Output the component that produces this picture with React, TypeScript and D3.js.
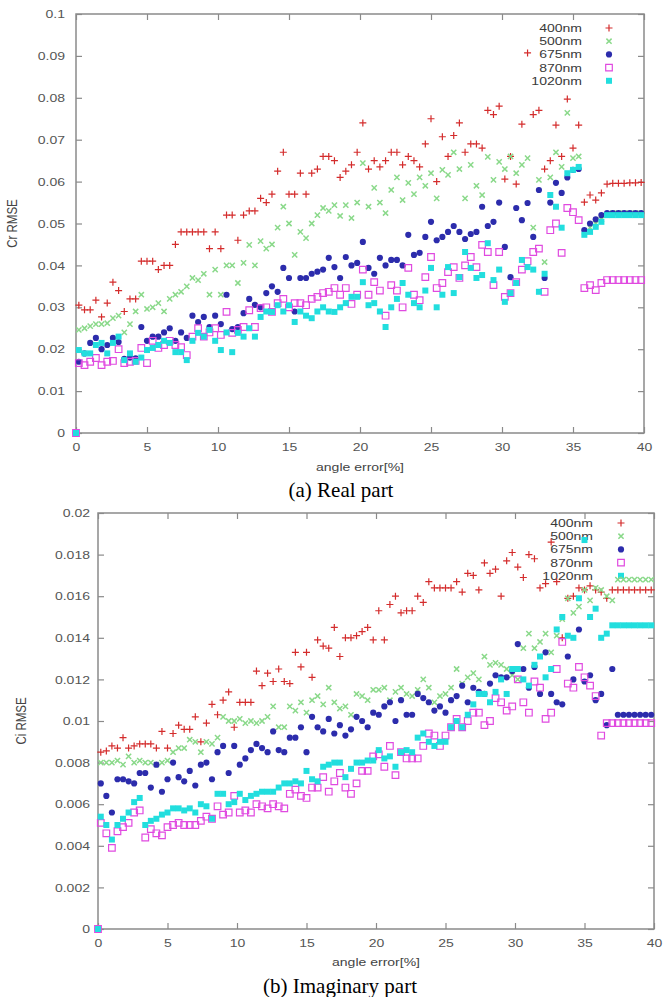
import { useEffect, useRef } from "react";
import * as d3 from "d3";

// angle error [%]: the origin, then every 0.4 from 0.2
const ANGLES = [
  0,
  0.2, 0.6, 1, 1.4, 1.8, 2.2, 2.6, 3, 3.4, 3.8,
  4.2, 4.6, 5, 5.4, 5.8, 6.2, 6.6, 7, 7.4, 7.8,
  8.2, 8.6, 9, 9.4, 9.8, 10.2, 10.6, 11, 11.4, 11.8,
  12.2, 12.6, 13, 13.4, 13.8, 14.2, 14.6, 15, 15.4, 15.8,
  16.2, 16.6, 17, 17.4, 17.8, 18.2, 18.6, 19, 19.4, 19.8,
  20.2, 20.6, 21, 21.4, 21.8, 22.2, 22.6, 23, 23.4, 23.8,
  24.2, 24.6, 25, 25.4, 25.8, 26.2, 26.6, 27, 27.4, 27.8,
  28.2, 28.6, 29, 29.4, 29.8, 30.2, 30.6, 31, 31.4, 31.8,
  32.2, 32.6, 33, 33.4, 33.8, 34.2, 34.6, 35, 35.4, 35.8,
  36.2, 36.6, 37, 37.4, 37.8, 38.2, 38.6, 39, 39.4, 39.8,
];

const WAVELENGTHS = ["400nm", "500nm", "675nm", "870nm", "1020nm"];
const COLORS = ["#d42c2c", "#8ad98a", "#2c2cac", "#e04ae0", "#22dede"];
const MARKERS = ["plus", "cross", "dot", "square", "box"];

const X_TICKS = [0, 5, 10, 15, 20, 25, 30, 35, 40];
const REAL_TICKS = [0, 0.01, 0.02, 0.03, 0.04, 0.05, 0.06, 0.07, 0.08, 0.09, 0.1];
const REAL_TICK_LABELS = ["0", "0.01", "0.02", "0.03", "0.04", "0.05", "0.06", "0.07", "0.08", "0.09", "0.1"];
const IMAG_TICKS = [0, 0.002, 0.004, 0.006, 0.008, 0.01, 0.012, 0.014, 0.016, 0.018, 0.02];
const IMAG_TICK_LABELS = ["0", "0.002", "0.004", "0.006", "0.008", "0.01", "0.012", "0.014", "0.016", "0.018", "0.02"];

// (a) real part, Cr RMSE
const REAL_400 = [
  0,
  0.0305, 0.0294, 0.0294, 0.0317, 0.0277, 0.031, 0.036, 0.034, 0.029, 0.032,
  0.032, 0.041, 0.041, 0.041, 0.039, 0.04, 0.04, 0.045, 0.048, 0.048,
  0.048, 0.048, 0.048, 0.044, 0.048, 0.044, 0.052, 0.052, 0.046, 0.052,
  0.053, 0.053, 0.056, 0.055, 0.057, 0.0625, 0.067, 0.057, 0.057, 0.062,
  0.057, 0.062, 0.063, 0.066, 0.066, 0.065, 0.061, 0.0625, 0.064, 0.067,
  0.074, 0.063, 0.065, 0.0635, 0.065, 0.067, 0.067, 0.064, 0.066, 0.065,
  0.0635, 0.069, 0.075, 0.06, 0.0707, 0.066, 0.071, 0.074, 0.067, 0.069,
  0.069, 0.068, 0.077, 0.076, 0.078, 0.0606, 0.066, 0.0594, 0.0737, 0.0907,
  0.076, 0.077, 0.063, 0.065, 0.0735, 0.066, 0.0797, 0.068, 0.0735, 0.0551,
  0.0568, 0.0556, 0.0573, 0.0594, 0.0596, 0.0596, 0.0596, 0.0597, 0.0597, 0.0598,
];
const REAL_500 = [
  0,
  0.0246, 0.025, 0.0255, 0.026, 0.026, 0.0262, 0.0274, 0.028, 0.024, 0.026,
  0.029, 0.033, 0.0296, 0.03, 0.031, 0.029, 0.032, 0.033, 0.0337, 0.035,
  0.037, 0.0365, 0.038, 0.033, 0.039, 0.033, 0.04, 0.04, 0.0358, 0.0406,
  0.0449, 0.04, 0.0458, 0.044, 0.045, 0.049, 0.054, 0.05, 0.0425, 0.048,
  0.0465, 0.05, 0.052, 0.0537, 0.053, 0.0544, 0.0518, 0.0544, 0.0513, 0.055,
  0.0644, 0.054, 0.0585, 0.055, 0.0525, 0.058, 0.061, 0.0556, 0.0597, 0.057,
  0.061, 0.059, 0.062, 0.056, 0.0628, 0.0616, 0.067, 0.063, 0.056, 0.064,
  0.059, 0.0568, 0.0659, 0.0604, 0.0647, 0.063, 0.066, 0.062, 0.064, 0.0656,
  0.049, 0.0604, 0.0408, 0.061, 0.067, 0.0635, 0.0764, 0.0656, 0.066, 0.048,
  0.049, 0.05, 0.051, 0.052, 0.0525, 0.0525, 0.0525, 0.0525, 0.0525, 0.0525,
];
const REAL_675 = [
  0,
  0.017, 0.019, 0.0215, 0.0227, 0.02, 0.021, 0.0227, 0.0217, 0.0177, 0.018,
  0.0178, 0.0253, 0.022, 0.023, 0.023, 0.024, 0.025, 0.022, 0.024, 0.0227,
  0.028, 0.0265, 0.0277, 0.0253, 0.028, 0.026, 0.033, 0.0248, 0.0253, 0.0286,
  0.032, 0.0306, 0.03, 0.0334, 0.035, 0.0337, 0.0394, 0.037, 0.029, 0.037,
  0.037, 0.038, 0.0385, 0.039, 0.0418, 0.0396, 0.037, 0.042, 0.04, 0.0406,
  0.0456, 0.0394, 0.038, 0.0418, 0.04, 0.0413, 0.0413, 0.04, 0.0473, 0.0425,
  0.043, 0.0468, 0.0504, 0.046, 0.0468, 0.048, 0.0494, 0.048, 0.0463, 0.0475,
  0.048, 0.054, 0.0494, 0.0504, 0.055, 0.0444, 0.0372, 0.0537, 0.0508, 0.0549,
  0.0468, 0.058, 0.037, 0.055, 0.0597, 0.0573, 0.061, 0.0628, 0.063, 0.0484,
  0.05, 0.051, 0.052, 0.0525, 0.0525, 0.0525, 0.0525, 0.0525, 0.0525, 0.0525,
];
const REAL_870 = [
  0,
  0.0167, 0.0162, 0.017, 0.0179, 0.0162, 0.017, 0.0172, 0.02, 0.0167, 0.017,
  0.0172, 0.0203, 0.0167, 0.022, 0.0203, 0.021, 0.022, 0.021, 0.0205, 0.0186,
  0.023, 0.025, 0.023, 0.024, 0.025, 0.0234, 0.0289, 0.0239, 0.0246, 0.0253,
  0.0293, 0.0253, 0.0298, 0.03, 0.0289, 0.031, 0.032, 0.03, 0.031, 0.031,
  0.0305, 0.032, 0.0325, 0.0334, 0.0337, 0.0346, 0.033, 0.0346, 0.0308, 0.033,
  0.039, 0.033, 0.036, 0.034, 0.028, 0.0353, 0.034, 0.03, 0.0394, 0.033,
  0.0317, 0.0372, 0.042, 0.0346, 0.0358, 0.0384, 0.0396, 0.037, 0.04, 0.042,
  0.0396, 0.0449, 0.0432, 0.0353, 0.0432, 0.0325, 0.0334, 0.036, 0.039, 0.041,
  0.0432, 0.044, 0.0337, 0.0484, 0.05, 0.043, 0.0537, 0.0527, 0.0508, 0.0346,
  0.0353, 0.0341, 0.0358, 0.0365, 0.0365, 0.0365, 0.0365, 0.0365, 0.0365, 0.0365,
];
const REAL_1020 = [
  0,
  0.0198, 0.019, 0.019, 0.021, 0.0215, 0.019, 0.0215, 0.023, 0.0174, 0.019,
  0.017, 0.018, 0.0198, 0.0203, 0.021, 0.022, 0.0215, 0.0193, 0.0193, 0.0174,
  0.022, 0.0239, 0.023, 0.0246, 0.022, 0.0198, 0.024, 0.0193, 0.0239, 0.023,
  0.025, 0.023, 0.0277, 0.029, 0.0289, 0.0305, 0.029, 0.0305, 0.0265, 0.029,
  0.028, 0.0274, 0.029, 0.03, 0.029, 0.0289, 0.03, 0.031, 0.0325, 0.0325,
  0.036, 0.0305, 0.031, 0.029, 0.0253, 0.03, 0.032, 0.0358, 0.033, 0.031,
  0.03, 0.034, 0.0394, 0.03, 0.033, 0.0396, 0.0334, 0.0372, 0.0432, 0.0394,
  0.037, 0.0377, 0.0453, 0.0365, 0.039, 0.0313, 0.0334, 0.0358, 0.0413, 0.0396,
  0.039, 0.0337, 0.038, 0.0568, 0.054, 0.049, 0.062, 0.0628, 0.0635, 0.0473,
  0.048, 0.0492, 0.0504, 0.052, 0.052, 0.052, 0.052, 0.052, 0.052, 0.052,
];

// (b) imaginary part, Ci RMSE
const IMAG_400 = [
  0,
  0.0085, 0.00856, 0.0088, 0.0087, 0.0092, 0.0087, 0.0088, 0.0089, 0.0089, 0.0089,
  0.0087, 0.0095, 0.0087, 0.0094, 0.0098, 0.0096, 0.0096, 0.0102, 0.009, 0.0099,
  0.0108, 0.0103, 0.011, 0.0114, 0.0097, 0.0109, 0.0109, 0.0109, 0.0124, 0.0117,
  0.0123, 0.0119, 0.0125, 0.0119, 0.0118, 0.0133, 0.0126, 0.0133, 0.0121, 0.0139,
  0.0136, 0.0135, 0.0145, 0.0131, 0.014, 0.014, 0.0141, 0.0143, 0.0145, 0.0139,
  0.0153, 0.0139, 0.0156, 0.016, 0.0152, 0.0153, 0.0153, 0.016, 0.0157, 0.0167,
  0.0164, 0.0164, 0.0164, 0.0164, 0.0167, 0.0162, 0.0171, 0.017, 0.0163, 0.0176,
  0.0171, 0.0173, 0.016, 0.0177, 0.0181, 0.0174, 0.0169, 0.018, 0.0178, 0.0164,
  0.0166, 0.0186, 0.0167, 0.014, 0.0159, 0.016, 0.0164, 0.0163, 0.0165, 0.0163,
  0.0162, 0.0159, 0.0163, 0.0163, 0.0163, 0.0163, 0.0163, 0.0163, 0.0163, 0.0163,
];
const IMAG_500 = [
  0,
  0.008, 0.008, 0.008, 0.0081, 0.0079, 0.0083, 0.008, 0.0081, 0.008, 0.008,
  0.0079, 0.008, 0.0081, 0.0085, 0.0087, 0.0087, 0.0091, 0.009, 0.0085, 0.009,
  0.0089, 0.0092, 0.0102, 0.01, 0.01, 0.0101, 0.0099, 0.01, 0.0099, 0.01,
  0.0102, 0.0107, 0.0097, 0.0097, 0.0107, 0.0105, 0.0109, 0.0104, 0.011, 0.0112,
  0.0108, 0.0116, 0.0109, 0.0106, 0.0107, 0.0103, 0.0113, 0.0112, 0.011, 0.0115,
  0.0115, 0.0116, 0.011, 0.0114, 0.0116, 0.0113, 0.0112, 0.0115, 0.012, 0.0116,
  0.0109, 0.0112, 0.0113, 0.0116, 0.0125, 0.0118, 0.0121, 0.0123, 0.012, 0.0131,
  0.0127, 0.0128, 0.0127, 0.0125, 0.0122, 0.012, 0.0135, 0.0142, 0.0135, 0.0138,
  0.0142, 0.0133, 0.0141, 0.0149, 0.0159, 0.0152, 0.0155, 0.0163, 0.0158, 0.0164,
  0.0163, 0.016, 0.0158, 0.0168, 0.0168, 0.0168, 0.0168, 0.0168, 0.0168, 0.0168,
];
const IMAG_675 = [
  0,
  0.007, 0.0064, 0.0056, 0.0072, 0.0072, 0.0071, 0.007, 0.0075, 0.0075, 0.0068,
  0.0079, 0.0066, 0.0072, 0.008, 0.0073, 0.0071, 0.0076, 0.0069, 0.0079, 0.008,
  0.0072, 0.0085, 0.0088, 0.0075, 0.0088, 0.0079, 0.0082, 0.0086, 0.0089, 0.0087,
  0.0085, 0.0095, 0.0086, 0.0085, 0.0092, 0.0092, 0.0097, 0.0085, 0.0102, 0.0097,
  0.0095, 0.0101, 0.0094, 0.0098, 0.0093, 0.0096, 0.0102, 0.01, 0.0097, 0.0104,
  0.0103, 0.0107, 0.0109, 0.01, 0.011, 0.0103, 0.0103, 0.0113, 0.0111, 0.0109,
  0.0105, 0.0107, 0.0104, 0.011, 0.0112, 0.0117, 0.0109, 0.0116, 0.0114, 0.0113,
  0.0118, 0.0122, 0.0121, 0.0121, 0.0124, 0.0137, 0.0125, 0.0116, 0.0126, 0.0113,
  0.0133, 0.0113, 0.0109, 0.0108, 0.0131, 0.012, 0.0144, 0.0119, 0.0122, 0.011,
  0.0113, 0.0098, 0.0125, 0.0103, 0.0103, 0.0103, 0.0103, 0.0103, 0.0103, 0.0103,
];
const IMAG_870 = [
  0,
  0.0051, 0.0046, 0.0039, 0.0047, 0.0049, 0.0051, 0.0056, 0.0057, 0.0044, 0.0048,
  0.0046, 0.0045, 0.0049, 0.005, 0.0051, 0.005, 0.005, 0.005, 0.0052, 0.0054,
  0.0053, 0.0059, 0.0055, 0.0056, 0.0064, 0.0056, 0.0057, 0.0056, 0.006, 0.0059,
  0.0058, 0.006, 0.0059, 0.0058, 0.0065, 0.0067, 0.0064, 0.0063, 0.0068, 0.0068,
  0.0073, 0.0066, 0.0071, 0.0075, 0.0068, 0.0065, 0.007, 0.0076, 0.0076, 0.0083,
  0.0084, 0.0078, 0.0088, 0.0074, 0.0085, 0.0082, 0.0082, 0.0082, 0.0088, 0.0094,
  0.0093, 0.0088, 0.0093, 0.0097, 0.0101, 0.0097, 0.01, 0.0104, 0.0104, 0.0098,
  0.01, 0.0111, 0.0109, 0.0105, 0.0107, 0.012, 0.0109, 0.0104, 0.0119, 0.0116,
  0.0101, 0.0104, 0.0125, 0.0138, 0.0118, 0.0116, 0.0126, 0.0121, 0.0117, 0.0112,
  0.0093, 0.0099, 0.0099, 0.0099, 0.0099, 0.0099, 0.0099, 0.0099, 0.0099, 0.0099,
];
const IMAG_1020 = [
  0,
  0.0054, 0.005, 0.0043, 0.005, 0.0053, 0.0056, 0.0061, 0.0063, 0.005, 0.0052,
  0.0053, 0.0055, 0.0056, 0.0058, 0.0058, 0.0057, 0.0058, 0.0056, 0.006, 0.0059,
  0.0053, 0.0065, 0.0065, 0.006, 0.0061, 0.0065, 0.0062, 0.0064, 0.0065, 0.0066,
  0.0066, 0.0066, 0.0068, 0.007, 0.007, 0.0071, 0.007, 0.0076, 0.0072, 0.0071,
  0.0078, 0.0079, 0.008, 0.008, 0.0073, 0.0077, 0.008, 0.008, 0.0081, 0.0081,
  0.0086, 0.0082, 0.0083, 0.0078, 0.0085, 0.0086, 0.0085, 0.0092, 0.0094, 0.009,
  0.0088, 0.009, 0.009, 0.0097, 0.01, 0.0097, 0.0103, 0.0108, 0.0113, 0.0113,
  0.0109, 0.0114, 0.012, 0.0113, 0.0125, 0.0125, 0.012, 0.0117, 0.0127, 0.0131,
  0.0121, 0.0125, 0.0144, 0.015, 0.0141, 0.014, 0.0159, 0.0187, 0.015, 0.0154,
  0.014, 0.0142, 0.0146, 0.0146, 0.0146, 0.0146, 0.0146, 0.0146, 0.0146, 0.0146,
];

const W = 665;
const H = 997;
const SX = 1.22; // the plots in the reference are a bit stretched sideways
const SANS = "'Liberation Sans', Arial, sans-serif";
const SERIF = "'Liberation Serif', 'Times New Roman', serif";
const GREY = "#8a8a8a";

const panels = [
  {
    series: [REAL_400, REAL_500, REAL_675, REAL_870, REAL_1020],
    yMax: 0.1, yTicks: REAL_TICKS, yLabels: REAL_TICK_LABELS,
    yTitle: "Cr RMSE", caption: "(a) Real part",
    left: 76, right: 644, top: 14, bottom: 433,
    yGap: 11, yTitleX: 12, xTitleY: 471,
    legendX: 582, legendSym: 609, legendY: 28, legendStep: 13.2,
    captionX: 341, captionY: 497,
  },
  {
    series: [IMAG_400, IMAG_500, IMAG_675, IMAG_870, IMAG_1020],
    yMax: 0.02, yTicks: IMAG_TICKS, yLabels: IMAG_TICK_LABELS,
    yTitle: "Ci RMSE", caption: "(b) Imaginary part",
    left: 98, right: 654, top: 513, bottom: 929,
    yGap: 8, yTitleX: 21, xTitleY: 966,
    legendX: 593, legendSym: 621, legendY: 523, legendStep: 13.2,
    captionX: 340, captionY: 993,
  },
];

const markerPath = (kind: string) => {
  if (kind === "plus") return "M-3.5,0H3.5M0,-3.5V3.5";
  if (kind === "cross") return "M-2.6,-2.6L2.6,2.6M-2.6,2.6L2.6,-2.6";
  if (kind === "square") return "M-3.3,-3.3h6.6v6.6h-6.6z";
  if (kind === "box") return "M-3,-3h6v6h-6z";
  return d3.symbol(d3.symbolCircle, 30)();
};

const styleMarker = (sel: any, i: number) => {
  const kind = MARKERS[i];
  const filled = kind === "dot" || kind === "box";
  sel
    .attr("d", markerPath(kind))
    .attr("fill", filled ? COLORS[i] : "none")
    .attr("stroke", filled ? "none" : COLORS[i])
    .attr("stroke-width", kind === "cross" ? 1.5 : 1.2);
};

const App = () => {
  const ref = useRef<SVGSVGElement>(null);

  useEffect(() => {
    document.body.style.margin = "0";
    const svg = d3.select(ref.current);
    svg.selectAll("*").remove();
    svg.append("rect").attr("width", W).attr("height", H).attr("fill", "white");

    panels.forEach((p) => {
      const x = d3.scaleLinear().domain([0, 40]).range([p.left, p.right]);
      const y = d3.scaleLinear().domain([0, p.yMax]).range([p.bottom, p.top]);
      const g = svg.append("g");

      // ticks point inwards on all four sides, gnuplot style
      const axes = [
        { axis: d3.axisBottom(x).tickValues(X_TICKS).tickFormat(d3.format("d")).tickPadding(10), at: `translate(0,${p.bottom})` },
        { axis: d3.axisTop(x).tickValues(X_TICKS).tickFormat(() => ""), at: `translate(0,${p.top})` },
        { axis: d3.axisLeft(y).tickValues(p.yTicks).tickFormat((_d, i) => p.yLabels[i]).tickPadding(p.yGap / SX), at: `translate(${p.left},0)` },
        { axis: d3.axisRight(y).tickValues(p.yTicks).tickFormat(() => ""), at: `translate(${p.right},0)` },
      ];
      axes.forEach(({ axis, at }) => {
        const a = g.append("g").attr("transform", at)
          .call(axis.tickSizeInner(-6).tickSizeOuter(0));
        a.attr("font-size", 11.5).attr("font-family", SANS);
        a.select(".domain").remove();
        a.selectAll(".tick line").attr("stroke", GREY).attr("stroke-width", 1.2);
        a.selectAll(".tick text").attr("fill", "#555").attr("transform", `scale(${SX},1)`);
      });

      g.append("rect")
        .attr("x", p.left).attr("y", p.top)
        .attr("width", p.right - p.left).attr("height", p.bottom - p.top)
        .attr("fill", "none").attr("stroke", GREY).attr("stroke-width", 1.5);

      // axis titles
      g.append("text")
        .attr("transform", `translate(${p.yTitleX},${(p.top + p.bottom) / 2}) scale(${SX},1) rotate(-90)`)
        .attr("text-anchor", "middle").attr("dominant-baseline", "central")
        .attr("font-family", SANS).attr("font-size", 11.5).attr("fill", "#444")
        .text(p.yTitle);
      g.append("text")
        .attr("transform", `translate(${(p.left + p.right) / 2},${p.xTitleY}) scale(${SX},1)`)
        .attr("text-anchor", "middle")
        .attr("font-family", SANS).attr("font-size", 11.5).attr("fill", "#444")
        .text("angle error[%]");

      // key
      const key = g.append("g");
      WAVELENGTHS.forEach((name, i) => {
        const ky = p.legendY + i * p.legendStep;
        key.append("text")
          .attr("transform", `translate(${p.legendX},${ky}) scale(${SX},1)`)
          .attr("text-anchor", "end").attr("dominant-baseline", "central")
          .attr("font-family", SANS).attr("font-size", 11.5).attr("fill", "#3a3a3a")
          .text(name);
        key.append("path")
          .attr("transform", `translate(${p.legendSym},${ky})`)
          .call(styleMarker, i);
      });

      // points, drawn in plot order so 1020nm sits on top
      p.series.forEach((values, i) => {
        g.append("g")
          .selectAll("path")
          .data(values)
          .join("path")
          .attr("transform", (v, j) => `translate(${x(ANGLES[j])},${y(v)})`)
          .call(styleMarker, i);
      });

      svg.append("text")
        .attr("x", p.captionX).attr("y", p.captionY)
        .attr("text-anchor", "middle")
        .attr("font-family", SERIF).attr("font-size", 21).attr("fill", "#000")
        .text(p.caption);
    });
  }, []);

  return <svg ref={ref} width={W} height={H} style={{ display: "block" }} />;
};

export default App;
